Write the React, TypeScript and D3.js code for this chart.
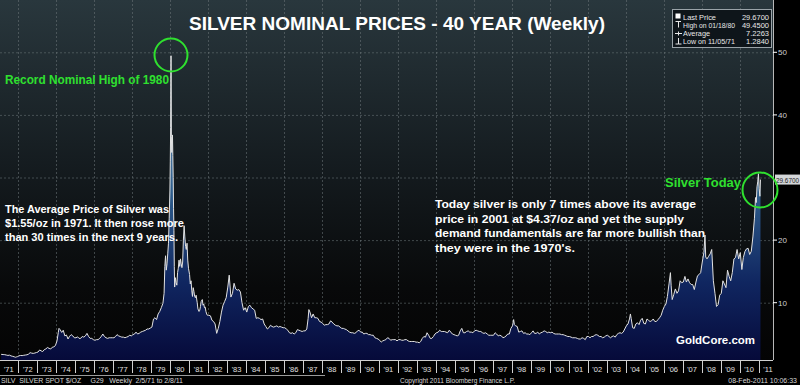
import { useRef, useEffect } from "react"
import * as d3 from "d3"

// weekly closes (monthly where the line is calm)
const prices1970s: [string, number][] = [
  ["1971-02-05", 1.75], ["1971-03", 1.72], ["1971-04", 1.7], ["1971-05", 1.64], ["1971-06", 1.58], ["1971-07", 1.62],
  ["1971-08", 1.5], ["1971-09", 1.43], ["1971-10", 1.36], ["1971-11-05", 1.284], ["1971-11-26", 1.34], ["1971-12", 1.38],
  ["1972-01", 1.52], ["1972-02", 1.57], ["1972-03", 1.55], ["1972-04", 1.6], ["1972-05", 1.64], ["1972-06", 1.68],
  ["1972-07", 1.78], ["1972-08", 2.02], ["1972-09", 1.94], ["1972-10", 1.9], ["1972-11", 1.96], ["1972-12", 2.04],
  ["1973-01", 2.12], ["1973-02", 2.45], ["1973-03", 2.3], ["1973-04", 2.2], ["1973-05", 2.5], ["1973-06", 2.62],
  ["1973-07", 2.85], ["1973-08", 2.7], ["1973-09", 2.6], ["1973-10", 2.88], ["1973-11", 2.95], ["1973-12", 3.15],
  ["1974-01", 3.9], ["1974-02-08", 5.2], ["1974-02-22", 5.9], ["1974-03", 5.7], ["1974-04", 5.25], ["1974-05", 5.6],
  ["1974-06", 4.7], ["1974-07", 4.85], ["1974-08", 4.2], ["1974-09", 4.65], ["1974-10", 4.9], ["1974-11", 4.7], ["1974-12", 4.4],
  ["1975-01", 4.4], ["1975-02", 4.55], ["1975-03", 4.3], ["1975-04", 4.3], ["1975-05", 4.6], ["1975-06", 4.5],
  ["1975-07", 4.7], ["1975-08", 5.1], ["1975-09", 4.6], ["1975-10", 4.3], ["1975-11", 4.3], ["1975-12", 4.1],
  ["1976-01", 4.0], ["1976-02", 4.1], ["1976-03", 4.1], ["1976-04", 4.3], ["1976-05", 4.6], ["1976-06", 5.0],
  ["1976-07", 4.6], ["1976-08", 4.4], ["1976-09", 4.3], ["1976-10", 4.4], ["1976-11", 4.4], ["1976-12", 4.4],
  ["1977-01", 4.4], ["1977-02", 4.6], ["1977-03", 4.9], ["1977-04", 4.7], ["1977-05", 4.6], ["1977-06", 4.5],
  ["1977-07", 4.5], ["1977-08", 4.4], ["1977-09", 4.5], ["1977-10", 4.6], ["1977-11", 4.8], ["1977-12", 4.7],
  ["1978-01", 4.9], ["1978-02", 5.0], ["1978-03", 5.3], ["1978-04", 5.0], ["1978-05", 5.1], ["1978-06", 5.3],
  ["1978-07", 5.4], ["1978-08", 5.5], ["1978-09", 5.6], ["1978-10", 5.8], ["1978-11", 5.8], ["1978-12", 5.95],
  ["1979-01", 6.1], ["1979-02", 7.4], ["1979-03", 7.6], ["1979-04", 7.3], ["1979-05", 8.2], ["1979-06", 8.6],
  ["1979-07", 9.2], ["1979-08", 9.9], ["1979-09-07", 11.5], ["1979-09-21", 15.8], ["1979-10-05", 17.5], ["1979-10-19", 15.2],
  ["1979-11-02", 16.2], ["1979-11-16", 17.8], ["1979-11-30", 19.5], ["1979-12-14", 23.5], ["1979-12-28", 28.0],
]

const prices1980s: [string, number][] = [
  ["1980-01-04", 32.5], ["1980-01-11", 38.0], ["1980-01-18", 49.45], ["1980-01-25", 36.5], ["1980-02-01", 34.0],
  ["1980-02-08", 35.5], ["1980-02-15", 36.8], ["1980-02-22", 33.5], ["1980-02-29", 30.0], ["1980-03-07", 25.0],
  ["1980-03-14", 21.5], ["1980-03-21", 15.8], ["1980-03-28", 12.5], ["1980-04-11", 14.0], ["1980-04-25", 13.2],
  ["1980-05-09", 12.8], ["1980-05-23", 14.8], ["1980-06-06", 15.5], ["1980-06-20", 16.8], ["1980-07-04", 15.8],
  ["1980-07-18", 17.0], ["1980-08-01", 16.2], ["1980-08-15", 15.6], ["1980-08-29", 16.5], ["1980-09-12", 20.0],
  ["1980-09-26", 22.3], ["1980-10-10", 20.5], ["1980-10-24", 19.0], ["1980-11-07", 18.5], ["1980-11-21", 19.5],
  ["1980-12-05", 16.8], ["1980-12-19", 15.5],
  ["1981-01-09", 14.5], ["1981-01-23", 13.0], ["1981-02-06", 13.5], ["1981-02-20", 12.0], ["1981-03-06", 11.0],
  ["1981-03-20", 12.4], ["1981-04-03", 11.8], ["1981-04-17", 11.0], ["1981-05-01", 10.8], ["1981-05-15", 11.2],
  ["1981-06-05", 10.0], ["1981-06-19", 9.0], ["1981-07-10", 8.6], ["1981-07-24", 8.8], ["1981-08-07", 9.4],
  ["1981-08-21", 10.2], ["1981-09-11", 10.5], ["1981-09-25", 9.6], ["1981-10-09", 9.8], ["1981-10-23", 9.2],
  ["1981-11-06", 9.3], ["1981-11-20", 8.6], ["1981-12-04", 8.2], ["1981-12-18", 8.0],
  ["1982-01", 8.0], ["1982-02", 7.9], ["1982-03", 7.2], ["1982-04", 7.0], ["1982-05", 6.6], ["1982-06", 5.1],
  ["1982-07", 5.9], ["1982-08", 7.0], ["1982-09", 8.5], ["1982-10", 9.6], ["1982-11", 10.2], ["1982-12", 10.8],
  ["1983-01", 12.5], ["1983-02-11", 14.4], ["1983-03", 10.9], ["1983-04", 11.5], ["1983-05", 13.1], ["1983-06", 12.2],
  ["1983-07", 12.0], ["1983-08", 12.1], ["1983-09", 11.7], ["1983-10", 10.0], ["1983-11", 8.8], ["1983-12", 9.2],
  ["1984-01", 8.5], ["1984-02", 9.4], ["1984-03", 9.6], ["1984-04", 9.2], ["1984-05", 9.0], ["1984-06", 8.8],
  ["1984-07", 7.5], ["1984-08", 7.6], ["1984-09", 7.5], ["1984-10", 7.3], ["1984-11", 7.4], ["1984-12", 6.6],
  ["1985-01", 6.2], ["1985-02", 5.8], ["1985-03", 6.0], ["1985-04", 6.4], ["1985-05", 6.2], ["1985-06", 6.1],
  ["1985-07", 6.2], ["1985-08", 6.3], ["1985-09", 6.1], ["1985-10", 6.2], ["1985-11", 6.1], ["1985-12", 6.0],
  ["1986-01", 6.0], ["1986-02", 5.8], ["1986-03", 5.6], ["1986-04", 5.2], ["1986-05", 5.1], ["1986-06", 5.2],
  ["1986-07", 5.0], ["1986-08", 5.2], ["1986-09", 5.7], ["1986-10", 5.6], ["1986-11", 5.5], ["1986-12", 5.4],
  ["1987-01", 5.5], ["1987-02", 5.5], ["1987-03", 5.8], ["1987-04-10", 7.5], ["1987-04-24", 8.9], ["1987-05", 8.5],
  ["1987-06", 7.6], ["1987-07", 8.2], ["1987-08", 7.6], ["1987-09", 7.6], ["1987-10", 7.5], ["1987-11", 7.0], ["1987-12", 6.9],
  ["1988-01", 6.7], ["1988-02", 6.4], ["1988-03", 6.5], ["1988-04", 6.5], ["1988-05", 6.6], ["1988-06", 7.1],
  ["1988-07", 6.9], ["1988-08", 6.6], ["1988-09", 6.4], ["1988-10", 6.3], ["1988-11", 6.3], ["1988-12", 6.1],
  ["1989-01", 5.9], ["1989-02", 5.9], ["1989-03", 5.8], ["1989-04", 5.7], ["1989-05", 5.5], ["1989-06", 5.3],
  ["1989-07", 5.2], ["1989-08", 5.2], ["1989-09", 5.1], ["1989-10", 5.2], ["1989-11", 5.5], ["1989-12", 5.6],
]

const prices1990s: [string, number][] = [
  ["1990-01", 5.3], ["1990-02", 5.3], ["1990-03", 5.0], ["1990-04", 5.1], ["1990-05", 5.1], ["1990-06", 4.9],
  ["1990-07", 4.9], ["1990-08", 4.8], ["1990-09", 4.8], ["1990-10", 4.4], ["1990-11", 4.3], ["1990-12", 4.2],
  ["1991-01", 4.0], ["1991-02", 3.7], ["1991-03", 3.9], ["1991-04", 4.0], ["1991-05", 4.1], ["1991-06", 4.4],
  ["1991-07", 4.3], ["1991-08", 4.0], ["1991-09", 4.1], ["1991-10", 4.1], ["1991-11", 4.1], ["1991-12", 3.9],
  ["1992-01", 4.1], ["1992-02", 4.1], ["1992-03", 4.0], ["1992-04", 4.0], ["1992-05", 4.1], ["1992-06", 4.1],
  ["1992-07", 3.9], ["1992-08", 3.8], ["1992-09", 3.8], ["1992-10", 3.8], ["1992-11", 3.8], ["1992-12", 3.7],
  ["1993-01", 3.7], ["1993-02", 3.6], ["1993-03", 3.8], ["1993-04", 4.3], ["1993-05", 4.6], ["1993-06", 4.5],
  ["1993-07", 5.2], ["1993-08", 4.8], ["1993-09", 4.3], ["1993-10", 4.3], ["1993-11", 4.6], ["1993-12", 5.0],
  ["1994-01", 5.2], ["1994-02", 5.3], ["1994-03", 5.6], ["1994-04", 5.4], ["1994-05", 5.4], ["1994-06", 5.4],
  ["1994-07", 5.3], ["1994-08", 5.2], ["1994-09", 5.6], ["1994-10", 5.3], ["1994-11", 5.0], ["1994-12", 4.9],
  ["1995-01", 4.8], ["1995-02", 4.7], ["1995-03", 4.8], ["1995-04", 5.5], ["1995-05", 5.9], ["1995-06", 5.2],
  ["1995-07", 5.2], ["1995-08", 5.4], ["1995-09", 5.5], ["1995-10", 5.3], ["1995-11", 5.3], ["1995-12", 5.2],
  ["1996-01", 5.5], ["1996-02", 5.6], ["1996-03", 5.5], ["1996-04", 5.4], ["1996-05", 5.4], ["1996-06", 5.2],
  ["1996-07", 5.1], ["1996-08", 5.2], ["1996-09", 5.0], ["1996-10", 4.8], ["1996-11", 4.8], ["1996-12", 4.8],
  ["1997-01", 4.8], ["1997-02", 5.2], ["1997-03", 5.0], ["1997-04", 4.7], ["1997-05", 4.8], ["1997-06", 4.7],
  ["1997-07", 4.4], ["1997-08", 4.5], ["1997-09", 4.7], ["1997-10", 5.0], ["1997-11", 5.0], ["1997-12", 5.9],
  ["1998-01", 6.3], ["1998-02-06", 7.3], ["1998-02-20", 6.5], ["1998-03", 6.3], ["1998-04", 6.2], ["1998-05", 5.3],
  ["1998-06", 5.4], ["1998-07", 5.5], ["1998-08", 5.1], ["1998-09", 5.2], ["1998-10", 5.0], ["1998-11", 5.0], ["1998-12", 4.9],
  ["1999-01", 5.2], ["1999-02", 5.5], ["1999-03", 5.1], ["1999-04", 5.1], ["1999-05", 5.3], ["1999-06", 5.0],
  ["1999-07", 5.2], ["1999-08", 5.3], ["1999-09", 5.5], ["1999-10", 5.4], ["1999-11", 5.2], ["1999-12", 5.3],
]

const prices2000s: [string, number][] = [
  ["2000-01", 5.2], ["2000-02", 5.3], ["2000-03", 5.1], ["2000-04", 5.0], ["2000-05", 5.0], ["2000-06", 5.0],
  ["2000-07", 5.0], ["2000-08", 4.9], ["2000-09", 4.9], ["2000-10", 4.8], ["2000-11", 4.7], ["2000-12", 4.6],
  ["2001-01", 4.6], ["2001-02", 4.5], ["2001-03", 4.4], ["2001-04", 4.4], ["2001-05", 4.4], ["2001-06", 4.3],
  ["2001-07", 4.2], ["2001-08", 4.2], ["2001-09", 4.4], ["2001-10", 4.3], ["2001-11", 4.1], ["2001-12", 4.6],
  ["2002-01", 4.6], ["2002-02", 4.4], ["2002-03", 4.6], ["2002-04", 4.6], ["2002-05", 4.8], ["2002-06", 4.9],
  ["2002-07", 4.8], ["2002-08", 4.6], ["2002-09", 4.6], ["2002-10", 4.4], ["2002-11", 4.5], ["2002-12", 4.7],
  ["2003-01", 4.8], ["2003-02", 4.6], ["2003-03", 4.4], ["2003-04", 4.6], ["2003-05", 4.7], ["2003-06", 4.5],
  ["2003-07", 4.9], ["2003-08", 5.1], ["2003-09", 5.2], ["2003-10", 5.1], ["2003-11", 5.3], ["2003-12", 5.8],
  ["2004-01", 6.3], ["2004-02", 6.6], ["2004-03", 7.4], ["2004-04-02", 8.2], ["2004-04-16", 7.5], ["2004-05", 6.0],
  ["2004-06", 5.9], ["2004-07", 6.6], ["2004-08", 6.8], ["2004-09", 6.5], ["2004-10", 7.2], ["2004-11", 7.5], ["2004-12", 6.7],
  ["2005-01", 6.6], ["2005-02", 7.4], ["2005-03", 7.2], ["2005-04", 7.0], ["2005-05", 7.1], ["2005-06", 7.4],
  ["2005-07", 7.0], ["2005-08", 7.0], ["2005-09", 7.3], ["2005-10", 7.6], ["2005-11", 8.0], ["2005-12", 8.8],
  ["2006-01", 9.4], ["2006-02", 9.8], ["2006-03", 11.0], ["2006-04", 13.0], ["2006-05-12", 14.8], ["2006-05-26", 12.7],
  ["2006-06", 10.5], ["2006-07", 11.3], ["2006-08", 12.2], ["2006-09", 11.5], ["2006-10", 11.9], ["2006-11", 13.5], ["2006-12", 13.2],
  ["2007-01", 13.3], ["2007-02", 14.2], ["2007-03", 13.3], ["2007-04", 13.8], ["2007-05", 13.2], ["2007-06", 12.9],
  ["2007-07", 12.9], ["2007-08", 12.1], ["2007-09", 13.3], ["2007-10", 14.3], ["2007-11", 14.5], ["2007-12", 14.8],
  ["2008-01", 16.5], ["2008-02", 18.0], ["2008-03-07", 20.8], ["2008-03-21", 17.3], ["2008-04", 17.0], ["2008-05", 17.4],
  ["2008-06", 17.8], ["2008-07", 18.5], ["2008-08", 13.5], ["2008-09", 11.5], ["2008-10", 9.4], ["2008-11", 9.7], ["2008-12", 11.2],
  ["2009-01", 11.5], ["2009-02", 13.5], ["2009-03", 13.0], ["2009-04", 12.4], ["2009-05", 15.2], ["2009-06", 14.2],
  ["2009-07", 13.5], ["2009-08", 14.8], ["2009-09", 17.0], ["2009-10", 17.2], ["2009-11", 18.5], ["2009-12", 17.0],
]

const prices2010s: [string, number][] = [
  ["2010-01", 18.0], ["2010-02", 15.3], ["2010-03", 17.2], ["2010-04", 18.2], ["2010-05", 18.6], ["2010-06", 18.7],
  ["2010-07", 17.7], ["2010-08", 18.2], ["2010-09", 20.5], ["2010-10", 23.5], ["2010-11-05", 26.8], ["2010-11-19", 26.0],
  ["2010-12-03", 28.5], ["2010-12-17", 29.3], ["2010-12-31", 30.6], ["2011-01-14", 28.2], ["2011-01-28", 27.0], ["2011-02-08", 29.67],
]

const gridValues = [10, 20, 30, 40, 50]
const axisTicks = [10, 20, 40, 50]
const lastPrice = 29.67
const legendLabels = ["Last Price", "High on 01/18/80", "Average", "Low on 11/05/71"]
const legendValues = ["29.6700", "49.4500", "7.2263", "1.2840"]
const noteLeft = ["The Average Price of Silver was", "$1.55/oz in 1971. It then rose more", "than 30 times in the next 9 years."]
const noteRight = [
  "Today silver is only 7 times above its average",
  "price in 2001 at $4.37/oz and yet the supply",
  "demand fundamentals are far more bullish than",
  "they were in the 1970's.",
]

export default function App() {
  const svgRef = useRef<SVGSVGElement>(null)

  useEffect(() => {
    const svg = d3.select(svgRef.current)
    svg.selectAll("*").remove()
    document.body.style.margin = "0"
    document.body.style.background = "#000"

    const font = "'Liberation Sans', Arial, sans-serif"
    const plotRight = 773
    const plotBottom = 360
    const green = "#2fe02f"

    const parse = (s: string) => new Date(s.length === 7 ? s + "-15T00:00:00" : s + "T00:00:00")
    const data = [...prices1970s, ...prices1980s, ...prices1990s, ...prices2000s, ...prices2010s].map(([d, v]) => ({
      date: parse(d),
      value: v,
    }))

    const x = d3.scaleTime().domain([new Date(1972, 0, 1), new Date(2011, 0, 1)]).range([18.3, 758.5])
    const y = d3.scaleLinear().domain([0, 50]).range([365.3, 52.3])

    const defs = svg.append("defs")
    const bg = defs.append("linearGradient").attr("id", "bg").attr("x1", 0).attr("y1", 0).attr("x2", 0).attr("y2", 1)
    bg.append("stop").attr("offset", "0%").attr("stop-color", "#29373d")
    bg.append("stop").attr("offset", "45%").attr("stop-color", "#151c20")
    bg.append("stop").attr("offset", "80%").attr("stop-color", "#08090a")
    bg.append("stop").attr("offset", "100%").attr("stop-color", "#040404")

    const fill = defs
      .append("linearGradient")
      .attr("id", "fill")
      .attr("gradientUnits", "userSpaceOnUse")
      .attr("x1", 0).attr("y1", 50).attr("x2", 0).attr("y2", plotBottom)
    fill.append("stop").attr("offset", "0%").attr("stop-color", "#88a6c0")
    fill.append("stop").attr("offset", "45%").attr("stop-color", "#2f5f8e")
    fill.append("stop").attr("offset", "75%").attr("stop-color", "#102660")
    fill.append("stop").attr("offset", "100%").attr("stop-color", "#060a3a")

    defs.append("clipPath").attr("id", "plot").append("rect").attr("x", 0).attr("y", 0).attr("width", plotRight).attr("height", plotBottom)

    svg.append("rect").attr("width", 800).attr("height", 385).attr("fill", "#000")
    svg.append("rect").attr("width", plotRight).attr("height", plotBottom).attr("fill", "url(#bg)")

    // Grid
    const grid = svg.append("g").attr("stroke", "#6b7478").attr("stroke-opacity", 0.55).attr("stroke-dasharray", "2,2")
    grid
      .selectAll("line.h")
      .data(gridValues)
      .enter()
      .append("line")
      .attr("x1", 0).attr("x2", plotRight)
      .attr("y1", (d) => y(d) + 0.5).attr("y2", (d) => y(d) + 0.5)
    const evenYears = d3.timeYear.every(2)!.range(new Date(1972, 0, 1), new Date(2011, 0, 2))
    grid
      .selectAll("line.v")
      .data(evenYears)
      .enter()
      .append("line")
      .attr("x1", (d) => Math.round(x(d)) + 0.5).attr("x2", (d) => Math.round(x(d)) + 0.5)
      .attr("y1", 0).attr("y2", plotBottom)

    // Price area
    const chart = svg.append("g").attr("clip-path", "url(#plot)")
    const area = d3
      .area<{ date: Date; value: number }>()
      .x((d) => x(d.date))
      .y0(plotBottom)
      .y1((d) => y(d.value))
    const line = d3
      .line<{ date: Date; value: number }>()
      .x((d) => x(d.date))
      .y((d) => y(d.value))
    chart.append("path").datum(data).attr("d", area).attr("fill", "url(#fill)")
    chart.append("path").datum(data).attr("d", line).attr("fill", "none").attr("stroke", "#e2e2e2").attr("stroke-width", 1)

    // Right axis
    svg.append("line").attr("x1", plotRight + 0.5).attr("x2", plotRight + 0.5).attr("y1", 0).attr("y2", plotBottom).attr("stroke", "#b8b8b8")
    const rAxis = svg.append("g")
    rAxis
      .selectAll("line")
      .data(axisTicks)
      .enter()
      .append("line")
      .attr("x1", plotRight).attr("x2", plotRight + 4)
      .attr("y1", (d) => y(d)).attr("y2", (d) => y(d))
      .attr("stroke", "#fff")
    rAxis
      .selectAll("text")
      .data(axisTicks)
      .enter()
      .append("text")
      .text((d) => d)
      .attr("x", plotRight + 5)
      .attr("y", (d) => y(d) + 3)
      .attr("fill", "#d0d0d0")
      .style("font-size", "8px")
      .style("font-family", font)
    const tagY = y(lastPrice)
    rAxis.append("rect").attr("x", plotRight + 2).attr("y", tagY - 5).attr("width", 25).attr("height", 10).attr("fill", "#d4d6d8")
    rAxis
      .append("text")
      .text(legendValues[0])
      .attr("x", plotRight + 3)
      .attr("y", tagY + 3)
      .attr("fill", "#1a1a1a")
      .attr("textLength", 23)
      .attr("lengthAdjust", "spacingAndGlyphs")
      .style("font-size", "7px")
      .style("font-family", font)

    // Bottom axis
    const bAxis = svg.append("g")
    bAxis.append("line").attr("x1", 0).attr("x2", plotRight).attr("y1", plotBottom + 0.5).attr("y2", plotBottom + 0.5).attr("stroke", "#cfcfcf")
    bAxis.append("line").attr("x1", 0).attr("x2", 325).attr("y1", 375.5).attr("y2", 375.5).attr("stroke", "#9a9a9a")
    const years = d3.timeYear.range(new Date(1971, 0, 1), new Date(2012, 0, 1))
    bAxis
      .selectAll("line.sep")
      .data(years.slice(1))
      .enter()
      .append("line")
      .attr("x1", (d) => Math.round(x(d)) + 0.5).attr("x2", (d) => Math.round(x(d)) + 0.5)
      .attr("y1", plotBottom).attr("y2", 373)
      .attr("stroke", "#cfcfcf")
    bAxis
      .selectAll("text")
      .data(years)
      .enter()
      .append("text")
      .text((d) => "'" + d3.timeFormat("%y")(d))
      .attr("x", (d) => (x(d) + x(d3.timeYear.offset(d, 1))) / 2)
      .attr("y", 372)
      .attr("text-anchor", "middle")
      .attr("fill", "#e0e0e0")
      .style("font-size", "7.5px")
      .style("font-family", font)

    // Footer
    const foot = svg.append("g").attr("fill", "#d6d6d6").style("font-size", "7px").style("font-family", font)
    foot.append("text").attr("x", 1).attr("y", 383).attr("xml:space", "preserve").attr("textLength", 182)
      .attr("lengthAdjust", "spacing").text("SILV  SILVER SPOT $/OZ     G29   Weekly  2/5/71 to 2/8/11")
    foot.append("text").attr("x", 400).attr("y", 383).attr("textLength", 115).attr("lengthAdjust", "spacingAndGlyphs")
      .text("Copyright 2011 Bloomberg Finance L.P.")
    foot.append("text").attr("x", 797).attr("y", 383).attr("text-anchor", "end").text("08-Feb-2011 10:06:33")

    // Title
    svg
      .append("text")
      .text("SILVER NOMINAL PRICES - 40 YEAR (Weekly)")
      .attr("x", 397)
      .attr("y", 30)
      .attr("text-anchor", "middle")
      .attr("fill", "#fff")
      .attr("textLength", 416)
      .attr("lengthAdjust", "spacingAndGlyphs")
      .style("font-size", "19px")
      .style("font-weight", "bold")
      .style("font-family", font)

    // Legend
    const lg = svg.append("g")
    lg.append("rect").attr("x", 672.5).attr("y", 9.5).attr("width", 99).attr("height", 38).attr("fill", "#0e151a").attr("stroke", "#9aa3a8")
    const labelLens = [33, 52, 27, 52]
    lg.selectAll("text.l")
      .data(legendLabels)
      .enter()
      .append("text")
      .text((d) => d)
      .attr("x", 683)
      .attr("y", (d, i) => 19.5 + i * 8.2)
      .attr("textLength", (d, i) => labelLens[i])
      .attr("lengthAdjust", "spacingAndGlyphs")
      .attr("fill", "#e8e8e8")
      .style("font-size", "7.5px")
      .style("font-family", font)
    lg.selectAll("text.v")
      .data(legendValues)
      .enter()
      .append("text")
      .text((d) => d)
      .attr("x", 769)
      .attr("y", (d, i) => 19.5 + i * 8.2)
      .attr("text-anchor", "end")
      .attr("fill", "#e8e8e8")
      .style("font-size", "7.5px")
      .style("font-family", font)
    lg.append("rect").attr("x", 675.5).attr("y", 13.5).attr("width", 5).attr("height", 5).attr("fill", "#fff")
    const ico = lg.append("g").attr("stroke", "#e8e8e8").attr("fill", "none")
    ico.append("path").attr("d", "M675.5,21.5H681M678.5,21.5V27.5")
    ico.append("path").attr("d", "M675,33.5H682M678.5,31.5V35.5")
    ico.append("path").attr("d", "M678.5,38V44H675.5M678.5,44H681.5")

    // Annotations
    svg.append("circle").attr("cx", 171).attr("cy", 55).attr("r", 16.5).attr("fill", "none").attr("stroke", green).attr("stroke-width", 2)
    svg.append("circle").attr("cx", 760).attr("cy", 190).attr("r", 17.5).attr("fill", "none").attr("stroke", green).attr("stroke-width", 2)

    const bold = (t: string, px: number, py: number, size: number, color: string, len: number) =>
      svg
        .append("text")
        .text(t)
        .attr("x", px)
        .attr("y", py)
        .attr("fill", color)
        .attr("textLength", len)
        .attr("lengthAdjust", "spacingAndGlyphs")
        .style("font-size", size + "px")
        .style("font-weight", "bold")
        .style("font-family", font)

    bold("Record Nominal High of 1980", 5, 84, 12, green, 164)
    bold("Silver Today", 665, 187, 13, green, 76)
    bold("GoldCore.com", 676, 344, 11.5, "#fff", 79)

    const leftLens = [164, 179, 173]
    noteLeft.forEach((t, i) => bold(t, 5, 212.5 + i * 14, 11, "#fff", leftLens[i]))
    const rightLens = [261, 249, 270, 140]
    noteRight.forEach((t, i) => bold(t, 435, 208 + i * 14.5, 11, "#fff", rightLens[i]))
  }, [svgRef])

  return (
    <div>
      <svg ref={svgRef} width={800} height={385} style={{ position: "absolute", left: 0, top: 0, display: "block" }}></svg>
    </div>
  )
}
